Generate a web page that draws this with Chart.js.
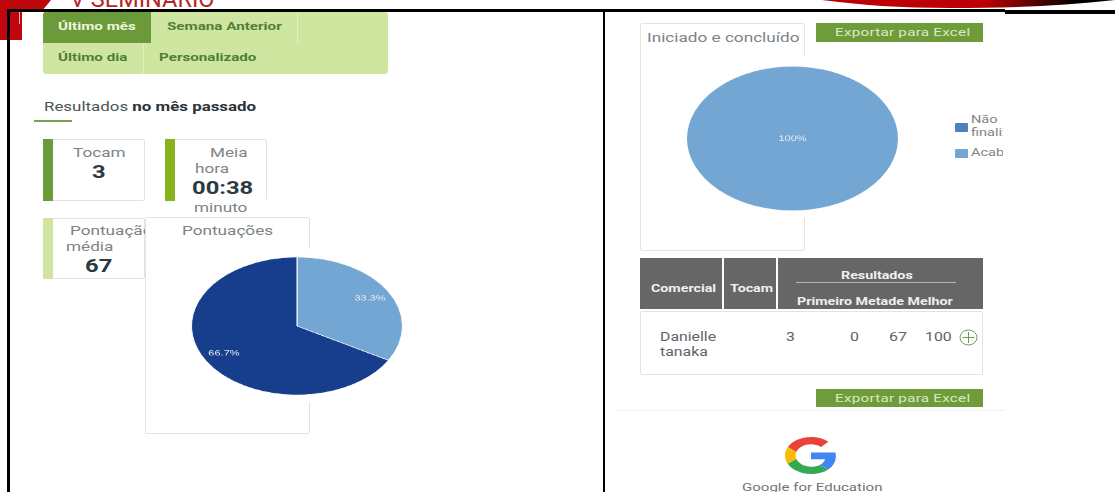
<!DOCTYPE html>
<html>
<head>
<meta charset="utf-8">
<title>Resultados no mês passado</title>
<script src="https://cdn.jsdelivr.net/npm/chart.js@4"></script>
<style>
html, body { margin: 0; padding: 0; background: #fff; }
#page { position: relative; width: 1115px; height: 492px; overflow: hidden; background: #fff; font-family: Roboto, sans-serif; }
#page div, #page svg, #page canvas { position: absolute; }
.t { position: absolute; white-space: nowrap; line-height: 1; font-size: 13px; color: #7d8487; transform: scaleX(1.32); transform-origin: left top; }
.b { font-weight: 700; }
.tab { font-size: 11.5px; font-weight: 700; color: #4f7f35; }
.num { font-size: 18px; font-weight: 700; color: #2b3a42; }
.th { font-size: 10.8px; font-weight: 700; color: #f0f0f0; }
.td { font-size: 12px; color: #5e6467; }
.card { background: #fff; border: 1px solid #e4e4da; box-sizing: border-box; border-radius: 2px; }
.black { background: #000; }
.btn { background: #6f9c3a; }
.btn .t { font-size: 11.5px; color: #dde8c6; left: 19px; top: 4px; letter-spacing: .2px; }
.head { background: #666; top: 258px; height: 51px; }
#legendClip { left: 955px; top: 112px; width: 48px; height: 52px; overflow: hidden; }
.swatch { width: 13px; height: 9px; left: 0; border-radius: 1px; }
</style>
</head>
<body>
<div id="page">
  <!-- header artwork cut off by the frame -->
  <svg style="left:0;top:0" width="1115" height="16">
    <defs>
      <linearGradient id="swoosh" gradientUnits="userSpaceOnUse" x1="985" x2="1075" y1="0" y2="0">
        <stop offset="0" stop-color="#bd0007"/>
        <stop offset="1" stop-color="#000"/>
      </linearGradient>
    </defs>
    <path d="M0 0H51L42 11H0Z" fill="#c1050d"/>
    <path d="M822 0C860 5 900 8 950 8C1010 8 1060 6 1115 0Z" fill="url(#swoosh)"/>
  </svg>
  <div style="left:0;top:10px;width:22px;height:30px;background:#c1050d"></div>
  <div style="left:19px;top:12px;width:1px;height:12px;background:#e9b7b9"></div>
  <div style="left:70px;top:0;width:146px;height:10px;overflow:hidden">
    <span class="t" style="left:0;top:-13px;font-size:24px;color:#b5262b;transform:scaleX(.98)">V SEMINARIO</span>
  </div>

  <!-- frame -->
  <div class="black" style="left:7px;top:9px;width:998px;height:3px"></div>
  <div class="black" style="left:7px;top:9px;width:3px;height:483px"></div>
  <div class="black" style="left:603px;top:9px;width:2px;height:483px"></div>
  <div class="black" style="left:1005px;top:10px;width:110px;height:4px"></div>
  <div style="left:615px;top:410px;width:390px;height:1px;background:#f1f1ee"></div>

  <!-- period tabs -->
  <div style="left:43px;top:12px;width:345px;height:62px;background:#cfe6a0;border-radius:3px"></div>
  <div style="left:43px;top:12px;width:108px;height:31px;background:#6a9a3a;border-radius:3px 0 0 0"></div>
  <div style="left:297px;top:12px;width:1px;height:31px;background:#e0efc4"></div>
  <div style="left:143px;top:43px;width:1px;height:31px;background:#e0efc4"></div>
  <span class="t tab" style="left:58px;top:21px;color:#eef5de">Último mês</span>
  <span class="t tab" style="left:167px;top:21px">Semana Anterior</span>
  <span class="t tab" style="left:58px;top:52px">Último dia</span>
  <span class="t tab" style="left:159px;top:52px">Personalizado</span>

  <span class="t" style="left:44px;top:101px;color:#4d5558;font-size:12.8px">Resultados <span class="b" style="color:#2b3338">no mês passado</span></span>
  <div style="left:34px;top:120px;width:38px;height:2px;background:#7d9f55"></div>

  <!-- summary cards -->
  <div class="card" style="left:43px;top:139px;width:102px;height:62px"></div>
  <div style="left:43px;top:139px;width:10px;height:62px;background:#6a9a3a"></div>
  <span class="t" style="left:73px;top:146px">Tocam</span>
  <span class="t num" style="left:92px;top:163px">3</span>

  <div class="card" style="left:165px;top:139px;width:102px;height:62px"></div>
  <div style="left:165px;top:139px;width:10px;height:62px;background:#86b31e"></div>
  <div style="left:175px;top:199px;width:100px;height:3px;background:#fff"></div>
  <span class="t" style="left:210px;top:146px">Meia</span>
  <span class="t" style="left:195px;top:162px">hora</span>
  <span class="t num" style="left:192px;top:179px">00:38</span>
  <span class="t" style="left:194px;top:201px">minuto</span>

  <div class="card" style="left:43px;top:218px;width:102px;height:61px"></div>
  <div style="left:43px;top:218px;width:10px;height:61px;background:#cfe6a0"></div>
  <span class="t" style="left:70px;top:224px">Pontuação</span>
  <span class="t" style="left:66px;top:240px">média</span>
  <span class="t num" style="left:85px;top:257px">67</span>

  <!-- scores pie -->
  <div class="card" style="left:145px;top:217px;width:165px;height:217px"></div>
  <span class="t" style="left:182px;top:224px">Pontuações</span>
  <div style="left:160px;top:249px;width:260px;height:153px;background:#fff"></div>
  <canvas id="scoreChart" width="212" height="212" style="left:191px;top:220px;transform:scaleY(.654)"></canvas>

  <!-- started and finished pie -->
  <div class="card" style="left:640px;top:23px;width:165px;height:228px"></div>
  <span class="t" style="left:647px;top:31px">Iniciado e concluído</span>
  <div style="left:660px;top:55px;width:250px;height:163px;background:#fff"></div>
  <canvas id="finishChart" width="211" height="211" style="left:687px;top:33px;transform:scaleY(.682)"></canvas>
  <div id="legendClip"></div>

  <div class="btn" style="left:816px;top:23px;width:167px;height:19px"><span class="t">Exportar para Excel</span></div>

  <!-- results table -->
  <div class="head" style="left:640px;width:82px"></div>
  <div class="head" style="left:724px;width:52px"></div>
  <div class="head" style="left:778px;width:205px"></div>
  <span class="t th" style="left:651px;top:284px">Comercial</span>
  <span class="t th" style="left:730px;top:284px">Tocam</span>
  <span class="t th" style="left:841px;top:271px">Resultados</span>
  <div style="left:796px;top:282px;width:160px;height:1px;background:#b5b5b5"></div>
  <span class="t th" style="left:797px;top:297px">Primeiro Metade Melhor</span>

  <div class="card" style="left:640px;top:311px;width:343px;height:64px"></div>
  <span class="t td" style="left:660px;top:331px">Danielle</span>
  <span class="t td" style="left:660px;top:346px">tanaka</span>
  <span class="t td" style="left:786px;top:331px">3</span>
  <span class="t td" style="left:850px;top:331px">0</span>
  <span class="t td" style="left:889px;top:331px">67</span>
  <span class="t td" style="left:925px;top:331px">100</span>
  <svg style="left:959px;top:329px" width="19" height="17" viewBox="0 0 19 17">
    <ellipse cx="9.5" cy="8.5" rx="8.5" ry="7.5" fill="none" stroke="#6f9c50" stroke-width="1"/>
    <path d="M9.5 3V14M3.5 8.5H15.5" stroke="#6f9c50" stroke-width="1"/>
  </svg>

  <div class="btn" style="left:816px;top:389px;width:167px;height:18px"><span class="t">Exportar para Excel</span></div>

  <!-- footer logo -->
  <svg style="left:785px;top:437px" width="52" height="37" viewBox="0 0 48 48" preserveAspectRatio="none">
    <path fill="#EA4335" d="M24 9.5c3.54 0 6.71 1.22 9.21 3.6l6.85-6.85C35.9 2.38 30.47 0 24 0 14.62 0 6.51 5.38 2.56 13.22l7.98 6.19C12.43 13.72 17.74 9.5 24 9.5z"/>
    <path fill="#4285F4" d="M46.98 24.55c0-1.57-.15-3.09-.38-4.55H24v9.02h12.94c-.58 2.96-2.26 5.48-4.78 7.18l7.73 6c4.51-4.18 7.09-10.36 7.09-17.65z"/>
    <path fill="#FBBC05" d="M10.53 28.59c-.48-1.45-.76-2.99-.76-4.59s.27-3.14.76-4.59l-7.98-6.19C.92 16.46 0 20.12 0 24c0 3.88.92 7.54 2.56 10.78l7.97-6.19z"/>
    <path fill="#34A853" d="M24 48c6.48 0 11.93-2.13 15.89-5.81l-7.73-6c-2.15 1.45-4.92 2.3-8.16 2.3-6.26 0-11.57-4.22-13.47-9.91l-7.98 6.19C6.51 42.62 14.62 48 24 48z"/>
  </svg>
  <span class="t" style="left:742px;top:482px;font-size:11.4px;color:#6f7578">Google for Education</span>
</div>

<script>
const scoreLabels = ['Acima da média', 'Abaixo da média'];
const scoreValues = [33.3, 66.7];
const scoreColors = ['#73a6d3', '#173e8d'];

const finishLabels = ['Não finalizado', 'Acabado'];
const finishValues = [0, 100];
const finishColors = ['#4f81bd', '#73a6d3'];

// writes each slice's percentage on the slice, the full pie gets it in the middle
const sliceLabels = {
    id: 'sliceLabels',
    afterDatasetsDraw(chart) {
        const ctx = chart.ctx;
        const values = chart.data.datasets[0].data;
        ctx.save();
        ctx.font = '11px "Liberation Sans", Arial, sans-serif';
        ctx.fillStyle = '#e9eff7';
        ctx.textAlign = 'center';
        ctx.textBaseline = 'middle';
        chart.getDatasetMeta(0).data.forEach((arc, i) => {
            if (!values[i]) return;
            const span = arc.endAngle - arc.startAngle;
            const mid = (arc.startAngle + arc.endAngle) / 2;
            const r = span > 6.28 ? 0 : arc.outerRadius * 0.8;
            ctx.fillText(values[i] + '%', arc.x + Math.cos(mid) * r, arc.y + Math.sin(mid) * r);
        });
        ctx.restore();
    }
};

function drawPie(id, labels, values, colors, border) {
    return new Chart(document.getElementById(id), {
        type: 'pie',
        data: {
            labels: labels,
            datasets: [{
                data: values,
                backgroundColor: colors,
                borderColor: '#fff',
                borderWidth: border,
                hoverOffset: 0
            }]
        },
        options: {
            responsive: false,
            animation: false,
            plugins: {
                legend: { display: false },
                tooltip: { enabled: false }
            }
        },
        plugins: [sliceLabels]
    });
}

drawPie('scoreChart', scoreLabels, scoreValues, scoreColors, 1);
drawPie('finishChart', finishLabels, finishValues, finishColors, 0);

// legend of the second pie, its box is narrower than the text
const legendBox = document.getElementById('legendClip');
finishLabels.forEach((label, i) => {
    const y = i === 0 ? 11 : 37;
    const swatch = document.createElement('div');
    swatch.className = 'swatch';
    swatch.style.top = y + 'px';
    swatch.style.background = finishColors[i];
    legendBox.appendChild(swatch);
    label.split(' ').forEach((word, n) => {
        const text = document.createElement('span');
        text.className = 't';
        text.textContent = word;
        text.style.left = '16px';
        text.style.fontSize = '11px';
        text.style.top = (i === 0 ? 2 + n * 13 : 35) + 'px';
        legendBox.appendChild(text);
    });
});
</script>
</body>
</html>
